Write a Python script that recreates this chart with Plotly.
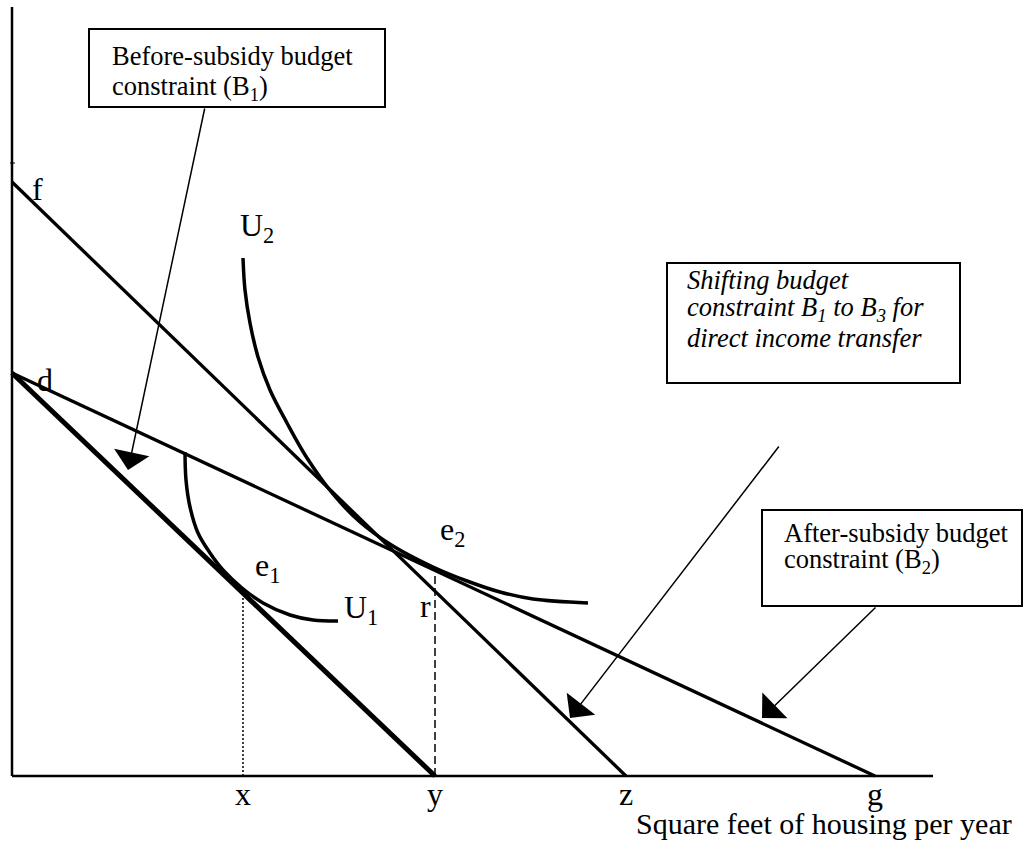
import plotly.graph_objects as go

# ---- Diagram values (housing units on x, other goods on y) ----
# Budget constraints: (x-intercept, y-intercept)
b1_intercepts = [423, 403]          # before-subsidy B1 (d to y)
b2_intercepts = [863, 403]          # after-subsidy B2 (d to g)
b3_intercepts = [614, 594]          # income transfer B3 (f to z)

# Indifference curves (points along each curve)
u1_x = [173, 174, 178, 186, 198, 211, 230, 251, 278, 301, 326]
u1_y = [324, 296, 269, 243, 223, 206, 188, 173, 161, 156, 155]
u2_x = [231, 233, 238, 246, 258, 275, 295, 321, 348, 381, 421, 455, 488, 521, 576]
u2_y = [518, 486, 453, 419, 386, 353, 318, 282, 254, 230, 209, 195, 184, 177, 173]

# Equilibrium points
e1 = [231, 183]
e2 = [423, 206]

# Quantity labels on the horizontal axis
axis_labels = ["x", "y", "z", "g"]
axis_label_pos = [e1[0], e2[0], b3_intercepts[0], b2_intercepts[0]]

# Axis extents
x_axis_end = 921
y_axis_end = 769

SERIF = "Liberation Serif"
BLACK = "black"

fig = go.Figure()

def seg(xs, ys, width, dash=None):
    fig.add_trace(go.Scatter(
        x=xs, y=ys, mode="lines", hoverinfo="skip",
        line=dict(color=BLACK, width=width, dash=dash),
    ))

# Axes
seg([0, 0], [0, y_axis_end], 2.5)
seg([0, x_axis_end], [0, 0], 2.5)
seg([-2, 3], [613, 613], 1)

# Budget lines
seg([0, b1_intercepts[0]], [b1_intercepts[1], 0], 5)
seg([0, b2_intercepts[0]], [b2_intercepts[1], 0], 3.3)
seg([0, b3_intercepts[0]], [b3_intercepts[1], 0], 3.3)

# Indifference curves
fig.add_trace(go.Scatter(x=u1_x, y=u1_y, mode="lines", hoverinfo="skip",
                         line=dict(color=BLACK, width=3.5, shape="spline")))
fig.add_trace(go.Scatter(x=u2_x, y=u2_y, mode="lines", hoverinfo="skip",
                         line=dict(color=BLACK, width=3.5, shape="spline")))

# Drop lines from the equilibria
seg([e1[0], e1[0]], [0, e1[1] - 4], 1.5, dash="2px,2px")
seg([e2[0], e2[0]], [0, e2[1] + 2], 1.5, dash="8px,4px")

# Callout boxes
boxes = [
    (77, 669, 373, 747),
    (655, 393, 948, 513),
    (750, 170, 1010, 266),
]
shapes = [dict(type="rect", xref="x", yref="y", x0=a, y0=b, x1=c, y1=d,
               line=dict(color=BLACK, width=2), fillcolor="rgba(0,0,0,0)")
          for a, b, c, d in boxes]

annotations = []

def text(x, y, s, size, xanchor="center", italic=False):
    annotations.append(dict(
        x=x, y=y, xref="x", yref="y", text=s, showarrow=False,
        xanchor=xanchor, yanchor="middle",
        font=dict(family=SERIF, size=size, color=BLACK,
                  style="italic" if italic else "normal"),
    ))

# Point labels
text(25, 587, "f", 32)
text(33, 396, "d", 32)
text(226, 549, "U<sub>2</sub>", 32, xanchor="left")
text(330, 167, "U<sub>1</sub>", 32, xanchor="left")
text(241, 209, "e<sub>1</sub>", 32, xanchor="left")
text(406, 170, "r", 32, xanchor="left")
text(426, 245, "e<sub>2</sub>", 32, xanchor="left")
for lab, pos in zip(axis_labels, axis_label_pos):
    text(pos, -18, lab, 32)
text(812, -47, "Square feet of housing per year", 30)

# Callout texts
text(98, 720, "Before-subsidy budget", 26.5, xanchor="left")
text(98, 688, "constraint (B<sub>1</sub>)", 26.5, xanchor="left")
text(673, 496, "Shifting budget", 26.5, xanchor="left", italic=True)
text(673, 467, "constraint B<sub>1</sub> to B<sub>3</sub> for", 26.5, xanchor="left", italic=True)
text(673, 438, "direct income transfer", 26.5, xanchor="left", italic=True)
text(770, 243, "After-subsidy budget", 26.5, xanchor="left")
text(770, 215, "constraint (B<sub>2</sub>)", 26.5, xanchor="left")

# Callout arrows: (tip, tail)
arrows = [
    ((116, 306), (193, 669)),
    ((558, 58), (768, 331)),
    ((750, 58), (865, 170)),
]
for (tx, ty), (sx, sy) in arrows:
    annotations.append(dict(
        x=tx, y=ty, ax=sx, ay=sy, xref="x", yref="y", axref="x", ayref="y",
        text="", showarrow=True, arrowhead=1, arrowsize=4, arrowwidth=1.5,
        arrowcolor=BLACK, standoff=0,
    ))

fig.update_layout(
    width=1024, height=848,
    margin=dict(l=0, r=0, t=0, b=0),
    paper_bgcolor="white", plot_bgcolor="white",
    showlegend=False,
    xaxis=dict(range=[-12, 1012], visible=False),
    yaxis=dict(range=[-72, 776], visible=False),
    shapes=shapes,
    annotations=annotations,
)

fig.write_html("out.html")
